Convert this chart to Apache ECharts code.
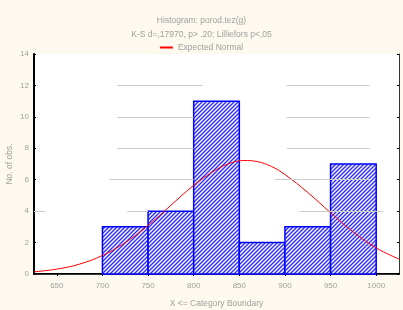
<!DOCTYPE html>
<html><head><meta charset="utf-8">
<script src="https://cdn.jsdelivr.net/npm/echarts@6/dist/echarts.min.js"></script>
<style>html,body{margin:0;padding:0;background:#fdf9ee}#c{width:403px;height:310px}</style>
</head><body><div id="c"></div>
<script>
// bins: [lower, upper, count]
const binLower = [700, 750, 800, 850, 900, 950];
const binUpper = [750, 800, 850, 900, 950, 1000];
const binCounts = [3, 4, 11, 2, 3, 7];
// expected normal curve
const curveX = [625, 650, 675, 700, 725, 750, 775, 800, 825, 840, 855, 870, 885, 900, 925, 950, 975, 1000, 1025];
const curveY = [0.14, 0.31, 0.63, 1.18, 2.0, 3.09, 4.37, 5.64, 6.65, 7.05, 7.22, 7.15, 6.85, 6.33, 5.19, 3.9, 2.67, 1.66, 0.95];
const xTicks = [650, 700, 750, 800, 850, 900, 950, 1000];
const yTicks = [0, 2, 4, 6, 8, 10, 12, 14];
// partial gray grid segments seen in the picture: [y, x0, x1]
const gridSegs = [
  [12, 716, 810], [12, 902, 993],
  [10, 716, 800], [10, 902, 993],
  [8, 716, 800], [8, 902, 993],
  [6, 708, 800], [6, 889, 993],
  [4, 625, 637], [4, 727, 750], [4, 916, 1008]
];
const titleText = 'Histogram: porod.tez(g)';
const subText = 'K-S d=,17970, p> .20; Lilliefors p<,05';
const legendName = 'Expected Normal';

function hatch() {
  const s = 4, cv = document.createElement('canvas');
  cv.width = s; cv.height = s;
  const g = cv.getContext('2d');
  const cols = ['#9a9aff', '#f4f4ff', '#9a9aff', '#2a2aff'];
  for (let x = 0; x < s; x++) for (let y = 0; y < s; y++) {
    g.fillStyle = cols[(x + y) % s];
    g.fillRect(x, y, 1, 1);
  }
  return { image: cv, repeat: 'repeat' };
}
const pat = hatch();
const textCol = '#a0a0a0';
const font = 'Liberation Sans';
const fs = 8.5;

const chart = echarts.init(document.getElementById('c'), null, { renderer: 'canvas' });
chart.setOption({
  backgroundColor: '#fdf9ee',
  animation: false,
  textStyle: { fontFamily: font },
  title: [
    { text: titleText, left: 'center', top: 11, textStyle: { fontSize: fs, color: textCol, fontWeight: 'normal', fontFamily: font } },
    { text: subText, left: 'center', top: 25, textStyle: { fontSize: fs, color: textCol, fontWeight: 'normal', fontFamily: font } }
  ],
  legend: {
    data: [legendName], left: 'center', top: 38, itemWidth: 13, itemHeight: 2, itemGap: 4,
    textStyle: { fontSize: fs, color: textCol, fontFamily: font }, icon: 'rect'
  },
  grid: { left: 34, right: 4, top: 54, bottom: 36, show: true, backgroundColor: '#ffffff', borderWidth: 0, containLabel: false, outerBoundsMode: 'none' },
  xAxis: [{
    type: 'value', min: 625, max: 1025,
    name: 'X <= Category Boundary', nameLocation: 'middle', nameGap: 25,
    nameTextStyle: { fontSize: fs, color: textCol, fontFamily: font },
    axisLine: { show: true, onZero: false, lineStyle: { color: '#000', width: 2 } },
    axisTick: { show: false },
    axisLabel: { customValues: xTicks, fontSize: 8, color: textCol, margin: 8, fontFamily: font, formatter: v => String(v) },
    splitLine: { show: false }
  }, {
    type: 'value', min: 625, max: 1025, position: 'top',
    axisLine: { show: true, lineStyle: { color: '#333', width: 1 } },
    axisTick: { show: true, inside: true, length: 2, customValues: xTicks, lineStyle: { color: '#000' } },
    axisLabel: { show: false }, splitLine: { show: false }
  }],
  yAxis: [{
    type: 'value', min: 0, max: 14, interval: 2,
    name: 'No. of obs.', nameLocation: 'middle', nameGap: 20, nameMoveOverlap: false,
    nameTextStyle: { fontSize: fs, color: textCol, fontFamily: font },
    axisLine: { show: true, lineStyle: { color: '#000', width: 2 } },
    axisTick: { show: true, inside: true, length: 2, lineStyle: { color: '#000' } },
    axisLabel: { fontSize: 8, color: textCol, margin: 5, fontFamily: font },
    splitLine: { show: false }
  }, {
    type: 'value', min: 0, max: 14, interval: 2, position: 'right',
    axisLine: { show: true, lineStyle: { color: '#333', width: 1 } },
    axisTick: { show: true, inside: true, length: 2, lineStyle: { color: '#000' } },
    axisLabel: { show: false }, splitLine: { show: false }
  }],
  series: [
    {
      type: 'line', name: 'grid', silent: true, data: [], z: 1,
      markLine: {
        silent: true, symbol: 'none', label: { show: false },
        lineStyle: { color: '#cccccc', width: 1, type: 'solid' },
        data: gridSegs.map(s => [{ coord: [s[1], s[0]] }, { coord: [s[2], s[0]] }])
      }
    },
    {
      type: 'custom', name: 'hist', z: 2,
      data: binCounts.map((c, i) => [binLower[i], binUpper[i], c]),
      encode: { x: [0, 1], y: 2 },
      renderItem: function (params, api) {
        const p0 = api.coord([api.value(0), 0]);
        const p1 = api.coord([api.value(1), api.value(2)]);
        return {
          type: 'rect',
          shape: { x: p0[0], y: p1[1], width: p1[0] - p0[0], height: p0[1] - p1[1] },
          style: { fill: pat, stroke: '#0000ff', lineWidth: 1.5 }
        };
      }
    },
    {
      type: 'line', name: legendName, smooth: 0.4, symbol: 'none', z: 3,
      lineStyle: { color: '#ff0000', width: 1 }, itemStyle: { color: '#ff0000' },
      data: curveX.map((x, i) => [x, curveY[i]])
    }
  ]
});
</script></body></html>
